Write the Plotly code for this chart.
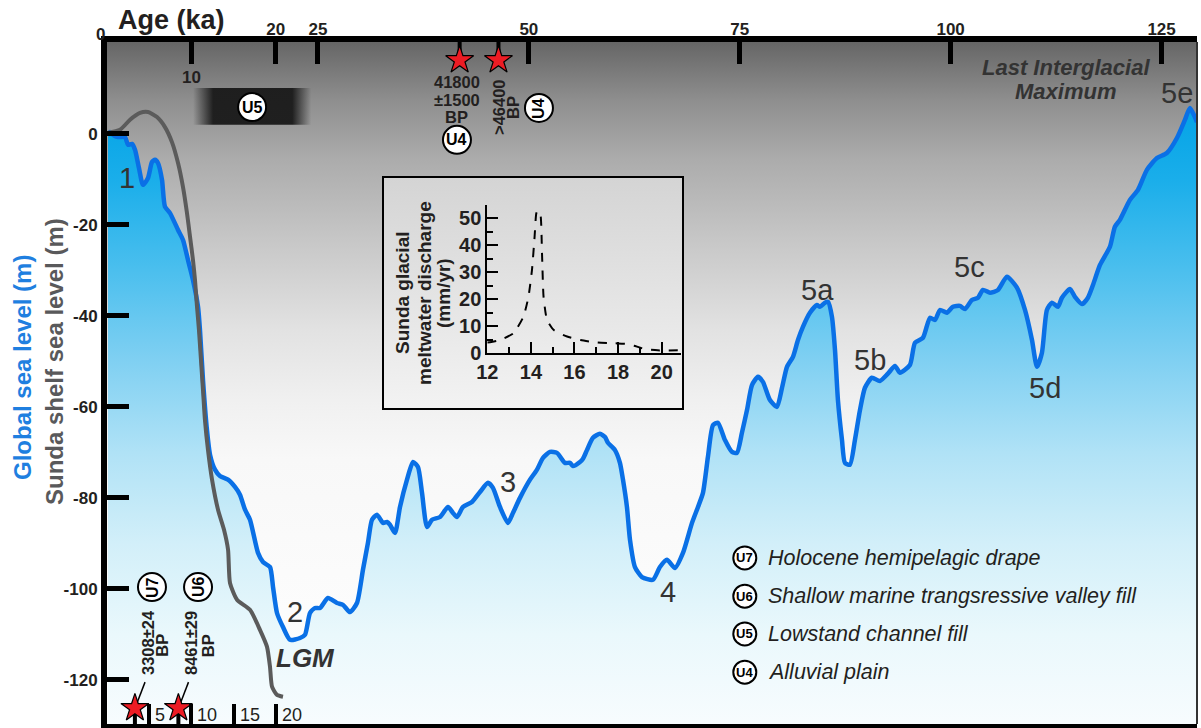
import plotly.graph_objects as go

F = "Arial, 'Liberation Sans', sans-serif"
INK = "#231f20"

# ---------------- data ----------------
global_age = [0.12, 0.36, 0.71, 1.30, 2.13, 2.49, 2.96, 3.32, 3.79, 4.27,
              4.86, 5.33, 5.69, 6.04, 6.52, 6.87, 7.47, 8.42, 9.01, 9.60,
              10.19, 10.79, 11.02, 11.38, 11.85, 12.21, 12.80, 13.39, 14.34, 15.17,
              15.76, 16.36, 16.95, 17.90, 18.49, 19.32, 19.68, 20.15, 20.86, 21.69,
              22.88, 23.47, 24.06, 24.65, 25.25, 26.19, 27.26, 27.97, 28.80, 29.63,
              30.34, 30.93, 31.41, 32.00, 32.71, 33.19, 33.54, 34.14, 34.73, 35.56,
              36.27, 36.86, 37.34, 37.93, 38.52, 39.47, 40.42, 41.01, 41.48, 42.20,
              43.26, 44.21, 45.16, 45.75, 46.58, 47.53, 48.12, 48.95, 50.14, 50.97,
              51.68, 52.51, 53.34, 54.28, 54.88, 55.23, 56.06, 56.42, 56.89, 57.60,
              58.43, 59.03, 59.38, 60.21, 60.80, 61.16, 61.63, 61.99, 62.58, 63.41,
              64.71, 65.54, 66.37, 67.32, 68.27, 69.34, 70.05, 70.64, 71.23, 71.83,
              72.42, 73.25, 74.08, 74.67, 75.26, 75.86, 76.45, 77.16, 77.75, 78.58,
              79.41, 80.01, 80.60, 81.31, 81.90, 82.49, 83.32, 84.15, 84.51, 85.10,
              85.46, 85.93, 86.29, 86.64, 87.12, 87.47, 88.06, 88.65, 89.25, 89.84,
              90.67, 91.61, 92.56, 93.40, 93.99, 95.17, 95.77, 96.72, 97.55, 98.14,
              98.73, 99.56, 100.27, 101.10, 101.70, 102.52, 103.24, 103.83, 104.66, 105.61,
              106.67, 107.86, 108.81, 109.64, 110.23, 110.82, 111.41, 112.01, 112.72, 113.19,
              114.14, 114.73, 115.56, 116.27, 116.87, 117.70, 118.88, 119.47, 120.06, 121.25,
              122.20, 123.26, 124.45, 125.63, 126.82, 127.77, 128.36, 128.95, 129.2]
global_level = [-0.4, 0.4, -0.2, -0.7, -0.7, -2.4, -2.2, -3.5, -7.5, -11.2,
                -9.7, -6.2, -5.7, -6.4, -10.1, -16.0, -17.4, -21.1, -23.3, -27.7,
                -32.1, -38.0, -43.1, -54.1, -65.1, -70.5, -73.8, -75.2, -76.0, -77.6,
                -79.3, -82.6, -84.8, -92.1, -94.1, -95.2, -99.6, -105.3, -108.4, -111.2,
                -110.8, -110.1, -105.3, -104.2, -104.2, -102.0, -103.1, -103.5, -105.1, -103.1,
                -95.8, -89.9, -84.8, -83.7, -85.5, -85.3, -85.9, -87.7, -82.0, -76.0,
                -72.1, -73.2, -78.9, -86.4, -84.8, -84.2, -82.0, -83.3, -84.2, -82.0,
                -80.9, -78.7, -76.7, -77.8, -82.0, -85.5, -83.3, -80.0, -76.0, -73.8,
                -71.2, -69.9, -70.1, -72.3, -72.3, -73.0, -72.1, -71.4, -69.5, -66.8,
                -65.9, -66.6, -67.9, -69.5, -72.3, -76.0, -82.0, -89.2, -95.2, -97.4,
                -98.0, -95.2, -93.6, -95.4, -92.1, -85.5, -82.0, -78.9, -71.0, -64.0,
                -63.5, -67.3, -69.9, -70.1, -65.7, -60.7, -55.2, -53.4, -54.5, -58.5,
                -60.0, -55.8, -51.2, -49.0, -45.3, -42.4, -39.3, -37.6, -38.0, -37.1,
                -36.9, -40.2, -47.5, -58.5, -67.3, -72.3, -72.7, -67.3, -60.7, -55.8,
                -53.6, -54.3, -52.7, -51.0, -52.5, -50.8, -45.9, -44.8, -40.4, -40.9,
                -38.7, -39.3, -38.0, -37.8, -38.5, -36.5, -36.0, -34.3, -34.9, -34.3,
                -31.4, -33.8, -38.7, -45.3, -51.2, -48.1, -38.7, -37.1, -38.0, -36.0,
                -34.1, -35.8, -37.4, -36.0, -33.2, -28.8, -24.8, -20.4, -18.9, -14.5,
                -12.3, -7.9, -5.3, -4.2, -0.9, 3.1, 5.7, 3.7, 2.6]

sunda_age = [0.1, 1.54, 2.73, 3.91, 4.86, 5.93, 6.87, 7.70, 8.42, 9.01,
             9.48, 9.84, 10.19, 10.43, 10.67, 10.90, 11.14, 11.38, 11.61, 11.97,
             12.45, 13.16, 13.87, 14.35, 14.58, 15.41, 16.95, 18.13, 18.96, 19.32,
             19.56, 20.15, 20.86]
sunda_level = [0.2, 0.9, 3.1, 4.6, 4.8, 3.7, 1.5, -1.8, -6.4, -11.7,
               -17.4, -22.6, -27.7, -32.1, -38.0, -43.1, -49.7, -56.3, -62.9, -69.5,
               -76.0, -82.6, -87.0, -91.4, -98.7, -102.4, -104.6, -109.0, -112.7, -117.1,
               -121.5, -123.3, -123.7]

mwp_age = [12.0, 12.12, 12.58, 13.2, 13.66, 13.89, 14.05, 14.17, 14.25, 14.32,
           14.43, 14.51, 14.58, 14.74, 15.05, 15.66, 16.28, 17.05, 17.82, 18.43,
           18.74, 19.2, 19.82, 20.9]
mwp_discharge = [4.0, 4.1, 4.9, 7.4, 13.6, 21.0, 30.9, 43.2, 51.9, 52.8,
                 51.9, 37.0, 21.0, 12.3, 8.6, 6.2, 4.9, 4.0, 3.7, 3.5,
                 2.8, 1.6, 1.1, 1.1]

top_tick_vals = [10, 20, 25, 50, 75, 100, 125]
top_tick_text = ["", "20", "25", "50", "75", "100", "125"]
bottom_tick_vals = [5, 10, 15, 20]
bottom_tick_text = ["5", "10", "15", "20"]
y_tick_vals = [0, -20, -40, -60, -80, -100, -120]
y_tick_text = ["0", "-20", "-40", "-60", "-80", "-100", "-120"]
mwp_x_ticks = [12, 14, 16, 18, 20]
mwp_y_ticks = [0, 10, 20, 30, 40, 50]

stage_names = ["1", "2", "3", "4", "5a", "5b", "5c", "5d", "5e"]
stage_age = [2.37, 22.28, 47.53, 66.49, 84.27, 90.43, 102.29, 111.18, 126.82]
stage_level = [-9.7, -105.1, -76.5, -100.7, -34.3, -49.7, -29.2, -55.8, 9.0]

top_dates_age = [41.8, 46.4]
bottom_dates_age = [3.308, 8.461]

legend_units = ["U7", "U6", "U5", "U4"]
legend_labels = ["Holocene hemipelagic drape",
                 "Shallow marine trangsressive valley fill",
                 "Lowstand channel fill",
                 "Alluvial plain"]

u5_age_range = [10.2, 24.2]

# ---------------- geometry / styling ----------------
AGE_MAX = 129.2
LEV_MIN, LEV_MAX = -129.7, 20.2
W, H = 1201, 728
ML, MR, MT, MB = 107, 4, 42, 4
PW, PH = W - ML - MR, H - MT - MB


def px(x):  # figure pixel -> paper x
    return (x - ML) / PW


def py(y):  # figure pixel -> paper y
    return (H - MB - y) / PH


bg_scale = [[0, '#ffffff'], [0.388, '#f8f8f8'], [0.475, '#f0f0f0'], [0.578, '#e2e2e2'],
            [0.695, '#cacaca'], [0.827, '#acacac'], [0.915, '#8e8e8e'], [1, '#666666']]
blue_scale = [[0, '#f7fcfe'], [0.131, '#eaf8fc'], [0.265, '#d2eff9'], [0.398, '#b0e2f6'],
              [0.532, '#80d0f2'], [0.665, '#4bbfee'], [0.798, '#1aaeea'], [0.905, '#03a3e6'],
              [1, '#009fe3']]

fig = go.Figure()

# plot background gradient (grey)
fig.add_trace(go.Scatter(
    x=[0, AGE_MAX, AGE_MAX, 0, 0], y=[LEV_MIN, LEV_MIN, LEV_MAX, LEV_MAX, LEV_MIN],
    mode='lines', line=dict(width=0), fill='toself',
    fillgradient=dict(type='vertical', start=LEV_MIN, stop=LEV_MAX, colorscale=bg_scale),
    hoverinfo='skip', showlegend=False))

# baseline for blue fill
fig.add_trace(go.Scatter(x=[global_age[0], global_age[-1]], y=[LEV_MIN, LEV_MIN],
                         mode='lines', line=dict(width=0), hoverinfo='skip', showlegend=False))
# global sea level
fig.add_trace(go.Scatter(
    x=global_age, y=global_level, mode='lines',
    line=dict(color='#0a70e6', width=4.5, shape='spline', smoothing=0.6),
    fill='tonexty',
    fillgradient=dict(type='vertical', start=LEV_MIN, stop=LEV_MAX, colorscale=blue_scale),
    showlegend=False))
# Sunda shelf sea level
fig.add_trace(go.Scatter(
    x=sunda_age, y=sunda_level, mode='lines',
    line=dict(color='#5b5b5b', width=4, shape='spline', smoothing=0.6),
    showlegend=False))

# U5 lowstand band
fig.add_trace(go.Scatter(
    x=[u5_age_range[0], u5_age_range[1], u5_age_range[1], u5_age_range[0], u5_age_range[0]],
    y=[2.0, 2.0, 10.1, 10.1, 2.0], mode='lines', line=dict(width=0), fill='toself',
    fillgradient=dict(type='horizontal', colorscale=[[0, 'rgba(25,25,25,0)'], [0.17, 'rgba(25,25,25,0.95)'],
                                                      [0.84, 'rgba(25,25,25,0.95)'], [1, 'rgba(25,25,25,0)']]),
    hoverinfo='skip', showlegend=False))

# date ticks and stars
STAR_TOP, STAR_BOT = 16.2, -126.2
tx, ty = [], []
for a in top_dates_age:
    tx += [a, a, None]
    ty += [LEV_MAX, STAR_TOP, None]
for a in bottom_dates_age:
    tx += [a, a, None]
    ty += [LEV_MIN, STAR_BOT, None]
fig.add_trace(go.Scatter(x=tx, y=ty, mode='lines', line=dict(color='black', width=4),
                         hoverinfo='skip', showlegend=False))
lx, ly = [], []
for a in bottom_dates_age:
    lx += [a + 0.25, a + 1.2, None]
    ly += [-125.1, -120.5, None]
fig.add_trace(go.Scatter(x=lx, y=ly, mode='lines', line=dict(color='black', width=1.5),
                         hoverinfo='skip', showlegend=False))
fig.add_trace(go.Scatter(
    x=top_dates_age + bottom_dates_age,
    y=[STAR_TOP] * len(top_dates_age) + [STAR_BOT] * len(bottom_dates_age),
    mode='markers', marker=dict(symbol='star', size=21, color='#ed1c24', line=dict(color='black', width=1.2)),
    hoverinfo='skip', showlegend=False))

# unit circles (chart)
circ_units = ["U5", "U4", "U4", "U7", "U6"]
circ_x = [17.2, 41.48, 51.2, 5.33, 10.79]
circ_y = [5.9, -1.3, 5.7, -99.6, -99.6]
circ_rot = [0, 0, -90, -90, -90]
fig.add_trace(go.Scatter(x=circ_x, y=circ_y, mode='markers',
                         marker=dict(symbol='circle', size=28, color='white', line=dict(color='black', width=2)),
                         hoverinfo='skip', showlegend=False))
# legend circles
LEG_X = 75.6
LEG_TX = 78.1
leg_y = [-93.2, -101.6, -109.9, -118.3]
fig.add_trace(go.Scatter(x=[LEG_X] * 4, y=leg_y, mode='markers',
                         marker=dict(symbol='circle', size=23, color='white', line=dict(color='black', width=2)),
                         hoverinfo='skip', showlegend=False))

# dummy on bottom axis so it is drawn
fig.add_trace(go.Scatter(x=[None], y=[None], xaxis='x2', yaxis='y', showlegend=False))

# ---------------- inset ----------------
fig.add_trace(go.Scatter(
    x=[0, 1, 1, 0, 0], y=[0, 0, 1, 1, 0], xaxis='x3', yaxis='y3', mode='lines',
    line=dict(width=0), fill='toself',
    fillgradient=dict(type='vertical', start=0, stop=1, colorscale=[[0, '#f3f3f3'], [1, '#d4d4d4']]),
    hoverinfo='skip', showlegend=False))
fig.add_trace(go.Scatter(
    x=mwp_age, y=mwp_discharge, xaxis='x4', yaxis='y4', mode='lines',
    line=dict(color='black', width=2, dash='dash', shape='spline', smoothing=0.5),
    showlegend=False))

ann = []


def A(text, x, y, size, bold=False, italic=False, color=INK, angle=0, xref='x', yref='y',
      xanchor='center', yanchor='middle', xshift=0, yshift=0):
    ann.append(dict(text=text, x=x, y=y, xref=xref, yref=yref, showarrow=False,
                    textangle=angle, xanchor=xanchor, yanchor=yanchor, xshift=xshift, yshift=yshift,
                    font=dict(family=F, size=size, color=color,
                              weight='bold' if bold else 'normal',
                              style='italic' if italic else 'normal')))


# axis extras
A("Age (ka)", px(171), py(20), 27, bold=True, xref='paper', yref='paper')
A("0", px(100), py(34), 17, bold=True, xref='paper', yref='paper')
A("10", 10, 12.3, 17, bold=True)
for v, t in zip(bottom_tick_vals, bottom_tick_text):
    A(t, v, -127.7, 18, xanchor='left', xshift=4)
A("Global sea level (m)", px(22), py(368), 24, bold=True, color='#1f7fe0', angle=-90, xref='paper', yref='paper')
A("Sunda shelf sea level (m)", px(54), py(362), 24, bold=True, color='#59595b', angle=-90, xref='paper', yref='paper')

# stage labels
for n, a, l in zip(stage_names, stage_age, stage_level):
    A(n, a, l, 29, color='#333333')
A("LGM", 23.47, -115.2, 26, bold=True, italic=True, color='#333333')
A("Last Interglacial", 113.67, 14.49, 22, bold=True, italic=True, color='#333333')
A("Maximum", 113.67, 9.43, 22, bold=True, italic=True, color='#333333')

# dates
for t, l in zip(["41800", "±1500", "BP"], [11.3, 7.5, 3.8]):
    A(t, 41.48, l, 16.5, bold=True)
A(">46400", 46.46, 5.91, 16.5, bold=True, angle=-90)
A("BP", 48.12, 5.91, 16.5, bold=True, angle=-90)
A("3308±24", 4.86, -111.9, 16.5, bold=True, angle=-90)
A("BP", 6.52, -112.5, 16.5, bold=True, angle=-90)
A("8461±29", 9.96, -111.9, 16.5, bold=True, angle=-90)
A("BP", 11.91, -112.5, 16.5, bold=True, angle=-90)

# unit circle text
for u, x, y, r in zip(circ_units, circ_x, circ_y, circ_rot):
    A(u, x, y, 16, bold=True, color='black', angle=r)
for u, y, t in zip(legend_units, leg_y, legend_labels):
    A(u, LEG_X, y, 13, bold=True, color='black')
    A(t, LEG_TX, y, 21.5, italic=True, xanchor='left', color=INK)

# inset text
A("MWP 1A", 14.65, 56.8, 20, bold=True, xref='x4', yref='y4')
A("Age (cal kyr BP)", 16.39, -13.6, 20, bold=True, xref='x4', yref='y4')
for t, xx in zip(["Sunda glacial", "meltwater discharge", "(mm/yr)"], [402, 424, 443]):
    A(t, px(xx), py(293), 19, bold=True, angle=-90, xref='paper', yref='paper')

axis_common = dict(showgrid=False, zeroline=False, linecolor='black', tickcolor='black', automargin=False)

fig.update_layout(
    template='none',
    width=W, height=H, margin=dict(l=ML, r=MR, t=MT, b=MB, pad=0, autoexpand=False),
    paper_bgcolor='white', plot_bgcolor='rgba(0,0,0,0)', showlegend=False,
    font=dict(family=F, color=INK),
    xaxis=dict(range=[0, AGE_MAX], side='top', showline=True, linewidth=6,
               ticks='inside', ticklen=22, tickwidth=5, tickvals=top_tick_vals, ticktext=top_tick_text,
               ticklabelstandoff=-6,
               tickfont=dict(family=F, size=17, color=INK, weight='bold'), **axis_common),
    xaxis2=dict(range=[0, AGE_MAX], overlaying='x', anchor='y', side='bottom', showline=True, linewidth=6,
                ticks='inside', ticklen=20, tickwidth=4, tickvals=bottom_tick_vals, showticklabels=False,
                **axis_common),
    yaxis=dict(range=[LEV_MIN, LEV_MAX], showline=True, linewidth=6, ticks='inside', ticklen=22, tickwidth=5,
               tickvals=y_tick_vals, ticktext=y_tick_text,
               tickfont=dict(family=F, size=17, color=INK, weight='bold'), **axis_common),
    xaxis3=dict(domain=[px(383), px(683)], range=[0, 1], visible=False, anchor='y3', automargin=False),
    yaxis3=dict(domain=[py(409), py(177)], range=[0, 1], visible=False, anchor='x3', automargin=False),
    xaxis4=dict(domain=[px(487.3), px(681.3)], range=[12, 20.9], anchor='y4', showline=True, linewidth=2,
                ticks='inside', ticklen=11, tickwidth=2, tickvals=mwp_x_ticks,
                minor=dict(ticks='inside', ticklen=6, tickwidth=2, dtick=1, tick0=12, tickcolor='black'),
                tickfont=dict(family=F, size=20, color=INK, weight='bold'), **axis_common),
    yaxis4=dict(domain=[py(353.3), py(204.8)], range=[0, 55], anchor='x4', showline=True, linewidth=2,
                ticks='inside', ticklen=11, tickwidth=2, tickvals=mwp_y_ticks,
                minor=dict(ticks='inside', ticklen=6, tickwidth=2, dtick=5, tick0=0, tickcolor='black'),
                tickfont=dict(family=F, size=20, color=INK, weight='bold'), **axis_common),
    annotations=ann,
    shapes=[
        dict(type='rect', xref='paper', yref='paper', x0=px(383), x1=px(683), y0=py(409), y1=py(177),
             line=dict(color='black', width=2), fillcolor='rgba(0,0,0,0)', layer='above'),
        dict(type='line', xref='paper', yref='paper', x0=1, x1=1, y0=0, y1=1,
             line=dict(color='#333333', width=2), layer='above'),
    ],
)

fig.write_html("out.html", config={'displayModeBar': False},
               post_script="document.body.style.margin='0';document.body.style.padding='0';"
                           "document.body.style.overflow='hidden';")
